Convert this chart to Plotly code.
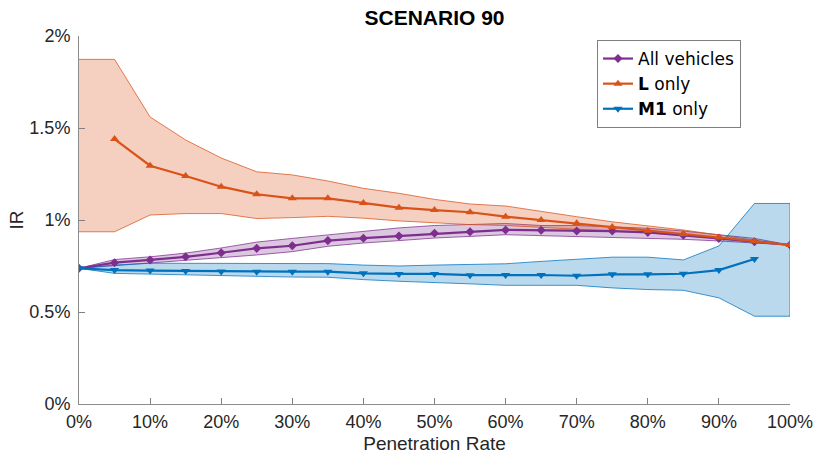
import plotly.graph_objects as go

# Penetration rate (%) at which IR was evaluated
pen = [0, 5, 10, 15, 20, 25, 30, 35, 40, 45, 50, 55, 60, 65, 70, 75, 80, 85, 90, 95, 100]

# All vehicles: median and spread (IR in %)
all_mid = [0.7375, 0.768, 0.783, 0.800, 0.822, 0.846, 0.860, 0.888, 0.901, 0.913, 0.928,
           0.936, 0.946, 0.944, 0.940, 0.940, 0.933, 0.918, 0.900, 0.882, 0.864]
all_hi = [0.7375, 0.785, 0.800, 0.820, 0.848, 0.880, 0.900, 0.920, 0.940, 0.957, 0.970,
          0.976, 0.981, 0.970, 0.970, 0.963, 0.955, 0.940, 0.922, 0.900, 0.864]
all_lo = [0.7375, 0.752, 0.765, 0.778, 0.795, 0.810, 0.828, 0.857, 0.875, 0.888, 0.902,
          0.911, 0.920, 0.913, 0.909, 0.905, 0.900, 0.895, 0.886, 0.876, 0.864]

# L only: median from 5 %, spread from 0 %
l_pen = pen[1:]
l_mid = [1.440, 1.295, 1.239, 1.181, 1.140, 1.118, 1.118, 1.092, 1.067, 1.054, 1.042,
         1.018, 1.000, 0.982, 0.962, 0.942, 0.924, 0.905, 0.884, 0.864]
l_hi = [1.873, 1.873, 1.560, 1.435, 1.337, 1.262, 1.245, 1.212, 1.172, 1.145, 1.112,
        1.087, 1.076, 1.045, 1.018, 0.990, 0.967, 0.946, 0.918, 0.891, 0.866]
l_lo = [0.936, 0.936, 1.027, 1.035, 1.035, 1.008, 1.013, 1.020, 1.010, 0.995, 0.985,
        0.975, 0.970, 0.960, 0.950, 0.940, 0.930, 0.915, 0.900, 0.882, 0.864]

# M1 only: median up to 95 %, spread up to 100 %
m_pen = pen[:-1]
m_mid = [0.7375, 0.728, 0.725, 0.723, 0.720, 0.719, 0.719, 0.719, 0.710, 0.707, 0.707,
         0.700, 0.701, 0.701, 0.697, 0.705, 0.705, 0.708, 0.728, 0.788]
m_hi = [0.7375, 0.755, 0.765, 0.765, 0.765, 0.765, 0.763, 0.763, 0.755, 0.750, 0.755,
        0.758, 0.762, 0.775, 0.785, 0.798, 0.798, 0.783, 0.859, 1.090, 1.090]
m_lo = [0.7375, 0.710, 0.702, 0.700, 0.697, 0.694, 0.690, 0.689, 0.676, 0.667, 0.659,
        0.653, 0.645, 0.645, 0.645, 0.631, 0.622, 0.618, 0.577, 0.477, 0.477]

y_ticks = [0, 0.5, 1, 1.5, 2]
y_labels = ["0%", "0.5%", "1%", "1.5%", "2%"]

PURPLE = (126, 47, 142)
ORANGE = (217, 83, 25)
BLUE = (0, 114, 189)


def rgba(c, a):
    return f"rgba({c[0]},{c[1]},{c[2]},{a})"


fig = go.Figure()


def band(x, lo, hi, c):
    fig.add_trace(go.Scatter(
        x=list(x) + list(x)[::-1], y=list(hi) + list(lo)[::-1],
        mode="lines", fill="toself", fillcolor=rgba(c, 0.27),
        line=dict(color=rgba(c, 0.75), width=1),
        hoverinfo="skip", showlegend=False))


band(pen, all_lo, all_hi, PURPLE)
band(pen, l_lo, l_hi, ORANGE)
band(pen, m_lo, m_hi, BLUE)

fig.add_trace(go.Scatter(x=pen, y=all_mid, mode="lines+markers", name="All vehicles",
                         line=dict(color=rgba(PURPLE, 1), width=2.2),
                         marker=dict(symbol="diamond", size=7, color=rgba(PURPLE, 1))))
fig.add_trace(go.Scatter(x=l_pen, y=l_mid, mode="lines+markers", name="<b>L</b> only",
                         line=dict(color=rgba(ORANGE, 1), width=2.2),
                         marker=dict(symbol="triangle-up", size=8, color=rgba(ORANGE, 1))))
fig.add_trace(go.Scatter(x=m_pen, y=m_mid, mode="lines+markers", name="<b>M1</b> only",
                         line=dict(color=rgba(BLUE, 1), width=2.2),
                         marker=dict(symbol="triangle-down", size=8, color=rgba(BLUE, 1))))

FONT = "Liberation Sans, Arial, sans-serif"
axis_font = dict(family=FONT, size=18, color="#262626")

fig.update_layout(
    width=813, height=458,
    margin=dict(l=79, r=23, t=36, b=54, autoexpand=False),
    paper_bgcolor="white", plot_bgcolor="white",
    title=dict(text="<b>SCENARIO 90</b>", x=0.5, xref="paper", xanchor="center",
               y=(458 - 18) / 458, yref="container", yanchor="middle",
               font=dict(family=FONT, size=21, color="black")),
    xaxis=dict(range=[0, 100], tickmode="array", tickvals=list(range(0, 101, 10)),
               ticktext=[f"{v}%" for v in range(0, 101, 10)],
               ticks="inside", ticklen=6, tickcolor="#808080",
               ticklabeloverflow="allow", ticklabelstandoff=1, automargin=False,
               showline=True, linecolor="#8c8c8c", linewidth=1,
               showgrid=False, zeroline=False, tickfont=axis_font,
               title=dict(text="Penetration Rate", font=dict(axis_font, size=19), standoff=6)),
    yaxis=dict(range=[0, 2], tickmode="array", tickvals=y_ticks, ticktext=y_labels,
               ticks="inside", ticklen=6, tickcolor="#808080",
               ticklabelstandoff=4, automargin=False,
               showline=True, linecolor="#8c8c8c", linewidth=1,
               showgrid=False, zeroline=False, tickfont=axis_font,
               title=dict(text="IR", font=dict(axis_font, size=19), standoff=0)),
    legend=dict(x=(597 - 79) / 711, y=(404 - 40) / 368, xanchor="left", yanchor="top",
                bgcolor="white", bordercolor="#7f7f7f", borderwidth=1,
                font=dict(family="DejaVu Sans, sans-serif", size=17, color="black"),
                tracegroupgap=0),
    showlegend=True,
)

fig.write_html("out.html")
